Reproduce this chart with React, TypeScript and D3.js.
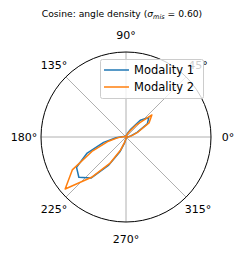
import React from 'react';
import * as d3 from 'd3';

// 40 angular bins of 9 degrees, values are density at bin centres
const binCenters = d3.range(40).map((k) => 4.5 + 9 * k);
const modality1 = [
  0.02, 0.05, 0.12, 0.25, 0.3, 0.22, 0.09, 0.04, 0.02, 0.01,
  0.01, 0.01, 0.01, 0.01, 0.01, 0.01, 0.01, 0.01, 0.02, 0.04,
  0.1, 0.23, 0.42, 0.58, 0.62, 0.54, 0.33, 0.16, 0.06, 0.02,
  0.01, 0.01, 0.01, 0.01, 0.01, 0.01, 0.01, 0.01, 0.01, 0.01,
];
const modality2 = [
  0.03, 0.06, 0.13, 0.27, 0.34, 0.16, 0.06, 0.03, 0.01, 0.01,
  0.01, 0.01, 0.01, 0.01, 0.01, 0.01, 0.01, 0.01, 0.01, 0.03,
  0.08, 0.18, 0.36, 0.63, 0.8, 0.53, 0.31, 0.14, 0.05, 0.02,
  0.01, 0.01, 0.01, 0.01, 0.01, 0.01, 0.01, 0.01, 0.01, 0.01,
];
const seriesNames = ['Modality 1', 'Modality 2'];
const seriesColors = ['#1f77b4', '#ff7f0e'];
const thetaTicks = [0, 45, 90, 135, 180, 225, 270, 315];
const rMax = 0.85;

const W = 244;
const H = 255;
const cx = 126;
const cy = 137;
const R = 85;
const font = 'DejaVu Sans, sans-serif';

export default function App() {
  const r = d3.scaleLinear().domain([0, rMax]).range([0, R]);
  const toRad = (deg: number) => (deg * Math.PI) / 180;

  // d3 radial angle runs clockwise from 12 o'clock
  const line = d3
    .lineRadial<number>()
    .angle((_, i) => Math.PI / 2 - toRad(binCenters[i]))
    .radius((d) => r(d))
    .curve(d3.curveLinearClosed);

  const series = [modality1, modality2];

  return (
    <svg
      width={W}
      height={H}
      style={{ position: 'absolute', left: 0, top: 0, background: '#fff' }}
      fontFamily={font}
    >
      <text x={W / 2} y={17} fontSize={9.2} textAnchor="middle" fill="#000">
        Cosine: angle density (
        <tspan fontStyle="italic">σ</tspan>
        <tspan fontStyle="italic" fontSize={6.5} dy={2}>mis</tspan>
        <tspan dy={-2}> = 0.60)</tspan>
      </text>

      <g transform={`translate(${cx},${cy})`}>
        {thetaTicks.map((t) => (
          <line
            key={t}
            x1={0}
            y1={0}
            x2={R * Math.cos(toRad(t))}
            y2={-R * Math.sin(toRad(t))}
            stroke="#b0b0b0"
            strokeWidth={1}
          />
        ))}
        {thetaTicks.map((t) => (
          <text
            key={'l' + t}
            x={102 * Math.cos(toRad(t))}
            y={-102 * Math.sin(toRad(t))}
            dy="0.36em"
            fontSize={11}
            textAnchor="middle"
            fill="#000"
          >
            {t}°
          </text>
        ))}
        {series.map((s, i) => (
          <path
            key={i}
            d={line(s) || ''}
            fill="none"
            stroke={seriesColors[i]}
            strokeWidth={1.5}
            strokeLinejoin="round"
          />
        ))}
        <circle r={R} fill="none" stroke="#000" strokeWidth={1} />
      </g>

      <g transform="translate(100,59)">
        <rect
          x={0.5}
          y={0.5}
          width={103}
          height={39}
          rx={2}
          fill="#fff"
          fillOpacity={0.8}
          stroke="#cccccc"
          strokeWidth={1}
        />
        {seriesNames.map((name, i) => (
          <g key={name} transform={`translate(0,${11 + i * 17})`}>
            <line x1={4} x2={29} y1={0} y2={0} stroke={seriesColors[i]} strokeWidth={1.5} />
            <text x={34} y={0} dy="0.36em" fontSize={11.5} fill="#000">
              {name}
            </text>
          </g>
        ))}
      </g>
    </svg>
  );
}
